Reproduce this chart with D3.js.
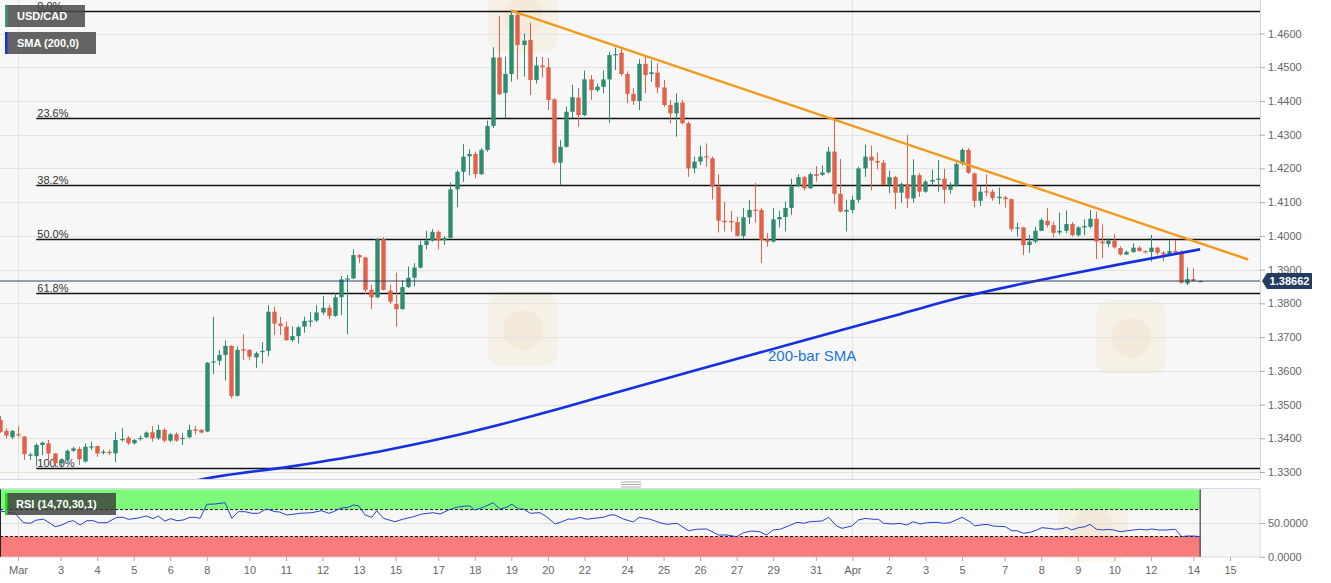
<!DOCTYPE html>
<html><head><meta charset="utf-8">
<script src="https://cdn.jsdelivr.net/npm/d3@7"></script>
<style>
body{margin:0;background:#fff;}
svg{display:block;font-family:"Liberation Sans",Arial,sans-serif;}
</style>
</head><body>
<svg id="chart" width="1331" height="583"></svg>
<script>
// ---------------- DATA ----------------
const firstBar = -3; // bar index of first candle (index 0 = Sun 1 Mar, 4H bars)
const openP = [
 1.3454,1.3422,1.3403,1.3412,1.3405,1.3350,1.3347,1.3380,1.3385,1.3355,
 1.3326,1.3336,1.3363,1.3368,1.3331,1.3373,1.3377,1.3358,1.3360,1.3355,
 1.3396,1.3402,1.3385,1.3398,1.3403,1.3418,1.3400,1.3425,1.3393,1.3412,
 1.3398,1.3403,1.3426,1.3425,1.3420,1.3625,1.3630,1.3647,1.3674,1.3526,
 1.3664,1.3662,1.3640,1.3656,1.3659,1.3775,1.3740,1.3731,1.3691,1.3703,
 1.3731,1.3746,1.3749,1.3773,1.3787,1.3763,1.3818,1.3871,1.3874,1.3943,
 1.3936,1.3840,1.3818,1.3990,1.3838,1.3798,1.3783,1.3848,1.3876,1.3906,
 1.3973,1.3986,1.4012,1.3987,1.3994,1.4138,1.4190,1.4236,1.4243,1.4183,
 1.4255,1.4326,1.4529,1.4424,1.4480,1.4655,1.4566,1.4581,1.4462,1.4505,
 1.4500,1.4405,1.4217,1.4264,1.4368,1.4410,1.4358,1.4464,1.4432,1.4442,
 1.4464,1.4537,1.4543,1.4480,1.4421,1.4400,1.4510,1.4480,1.4484,1.4440,
 1.4388,1.4363,1.4395,1.4334,1.4200,1.4220,1.4236,1.4230,1.4146,1.4045,
 1.4044,1.4041,1.4000,1.4055,1.4078,1.4077,1.3990,1.3983,1.4049,1.4056,
 1.4083,1.4147,1.4174,1.4141,1.4183,1.4181,1.4188,1.4250,1.4125,1.4072,
 1.4077,1.4107,1.4200,1.4235,1.4222,1.4217,1.4151,1.4174,1.4128,1.4154,
 1.4111,1.4180,1.4131,1.4161,1.4166,1.4170,1.4137,1.4149,1.4213,1.4255,
 1.4185,1.4104,1.4132,1.4131,1.4112,1.4114,1.4109,1.4022,1.4025,1.3973,
 1.3983,1.4015,1.4045,1.4032,1.4010,1.4015,1.4035,1.4002,1.4025,1.4027,
 1.4051,1.3983,1.3976,1.3986,1.3964,1.3945,1.3952,1.3965,1.3955,1.3952,
 1.3965,1.3950,1.3946,1.3955,1.3950,1.3859,1.3872,1.3866];
const highP = [
 1.3466,1.3430,1.3424,1.3436,1.3407,1.3357,1.3385,1.3390,1.3395,1.3356,
 1.3340,1.3367,1.3375,1.3375,1.3385,1.3390,1.3378,1.3366,1.3366,1.3418,
 1.3430,1.3406,1.3398,1.3408,1.3420,1.3436,1.3440,1.3430,1.3415,1.3417,
 1.3415,1.3440,1.3437,1.3427,1.3626,1.3760,1.3662,1.3690,1.3676,1.3672,
 1.3708,1.3665,1.3657,1.3685,1.3795,1.3790,1.3760,1.3746,1.3731,1.3733,
 1.3760,1.3775,1.3795,1.3822,1.3795,1.3830,1.3881,1.3884,1.3960,1.3946,
 1.3938,1.3855,1.3993,1.3996,1.3856,1.3891,1.3869,1.3909,1.3919,1.3986,
 1.4015,1.4020,1.4017,1.3999,1.4158,1.4195,1.4272,1.4257,1.4250,1.4260,
 1.4342,1.4559,1.4652,1.4531,1.4668,1.4660,1.4600,1.4632,1.4531,1.4530,
 1.4527,1.4408,1.4284,1.4383,1.4448,1.4438,1.4490,1.4477,1.4452,1.4490,
 1.4546,1.4558,1.4555,1.4488,1.4438,1.4524,1.4531,1.4521,1.4512,1.4462,
 1.4403,1.4423,1.4403,1.4339,1.4235,1.4268,1.4274,1.4235,1.4183,1.4101,
 1.4074,1.4057,1.4082,1.4107,1.4157,1.4082,1.4008,1.4082,1.4074,1.4102,
 1.4169,1.4183,1.4178,1.4188,1.4207,1.4209,1.4264,1.4350,1.4228,1.4107,
 1.4119,1.4205,1.4271,1.4268,1.4247,1.4225,1.4193,1.4178,1.4158,1.4300,
 1.4227,1.4186,1.4166,1.4197,1.4225,1.4199,1.4159,1.4218,1.4260,1.4260,
 1.4188,1.4149,1.4182,1.4138,1.4143,1.4119,1.4111,1.4039,1.4027,1.4003,
 1.4027,1.4052,1.4082,1.4042,1.4069,1.4075,1.4041,1.4029,1.4049,1.4077,
 1.4072,1.4034,1.3993,1.4006,1.3969,1.3957,1.3978,1.3969,1.3957,1.4003,
 1.3968,1.3955,1.3988,1.3988,1.3958,1.3907,1.3904,1.3868];
const lowP = [
 1.3416,1.3400,1.3397,1.3403,1.3336,1.3336,1.3318,1.3350,1.3331,1.3315,
 1.3313,1.3331,1.3359,1.3321,1.3328,1.3365,1.3345,1.3352,1.3350,1.3329,
 1.3390,1.3380,1.3382,1.3393,1.3400,1.3390,1.3395,1.3388,1.3388,1.3390,
 1.3380,1.3400,1.3411,1.3414,1.3418,1.3590,1.3617,1.3571,1.3518,1.3524,
 1.3632,1.3631,1.3608,1.3622,1.3643,1.3706,1.3706,1.3689,1.3686,1.3681,
 1.3713,1.3731,1.3745,1.3765,1.3753,1.3760,1.3765,1.3708,1.3872,1.3919,
 1.3828,1.3783,1.3815,1.3838,1.3798,1.3731,1.3781,1.3846,1.3850,1.3903,
 1.3960,1.3983,1.3960,1.3973,1.3992,1.4086,1.4160,1.4180,1.4171,1.4180,
 1.4250,1.4320,1.4417,1.4349,1.4457,1.4464,1.4472,1.4417,1.4452,1.4470,
 1.4373,1.4212,1.4150,1.4262,1.4349,1.4324,1.4355,1.4403,1.4427,1.4423,
 1.4335,1.4492,1.4474,1.4393,1.4388,1.4373,1.4423,1.4457,1.4423,1.4383,
 1.4334,1.4294,1.4330,1.4175,1.4185,1.4210,1.4205,1.4108,1.4010,1.4013,
 1.4013,1.3998,1.3991,1.4035,1.4039,1.3920,1.3968,1.3980,1.4025,1.4013,
 1.4062,1.4144,1.4135,1.4139,1.4161,1.4178,1.4185,1.4095,1.4070,1.4013,
 1.4067,1.4099,1.4175,1.4135,1.4197,1.4150,1.4126,1.4079,1.4099,1.4082,
 1.4099,1.4116,1.4128,1.4147,1.4131,1.4096,1.4125,1.4146,1.4209,1.4184,
 1.4084,1.4089,1.4117,1.4104,1.4094,1.4084,1.4013,1.3998,1.3943,1.3950,
 1.3978,1.4014,1.4025,1.3995,1.4003,1.4008,1.3998,1.3998,1.4002,1.4022,
 1.3931,1.3934,1.3966,1.3962,1.3942,1.3943,1.3950,1.3953,1.3948,1.3924,
 1.3943,1.3925,1.3944,1.3948,1.3858,1.3854,1.3864,1.3864];
const closeP = [
 1.3419,1.3408,1.3422,1.3410,1.3353,1.3352,1.3380,1.3387,1.3355,1.3326,
 1.3335,1.3363,1.3370,1.3338,1.3375,1.3376,1.3355,1.3360,1.3356,1.3395,
 1.3398,1.3385,1.3395,1.3401,1.3417,1.3400,1.3425,1.3393,1.3412,1.3393,
 1.3401,1.3425,1.3422,1.3417,1.3624,1.3628,1.3647,1.3674,1.3525,1.3662,
 1.3660,1.3642,1.3652,1.3659,1.3775,1.3740,1.3733,1.3691,1.3703,1.3729,
 1.3748,1.3749,1.3773,1.3787,1.3763,1.3818,1.3871,1.3874,1.3943,1.3936,
 1.3840,1.3818,1.3990,1.3840,1.3805,1.3783,1.3848,1.3876,1.3906,1.3973,
 1.3986,1.4012,1.3986,1.3994,1.4138,1.4190,1.4235,1.4243,1.4183,1.4255,
 1.4326,1.4529,1.4420,1.4480,1.4655,1.4566,1.4579,1.4462,1.4505,1.4500,
 1.4403,1.4217,1.4264,1.4368,1.4411,1.4358,1.4464,1.4432,1.4442,1.4464,
 1.4536,1.4539,1.4480,1.4421,1.4400,1.4510,1.4477,1.4485,1.4440,1.4388,
 1.4363,1.4395,1.4334,1.4200,1.4220,1.4235,1.4233,1.4146,1.4045,1.4041,
 1.4040,1.4000,1.4055,1.4077,1.4074,1.3988,1.3983,1.4049,1.4056,1.4083,
 1.4147,1.4174,1.4141,1.4183,1.4178,1.4188,1.4250,1.4125,1.4072,1.4077,
 1.4107,1.4200,1.4235,1.4223,1.4217,1.4151,1.4174,1.4128,1.4154,1.4111,
 1.4180,1.4131,1.4161,1.4166,1.4170,1.4137,1.4149,1.4213,1.4255,1.4187,
 1.4104,1.4131,1.4129,1.4112,1.4116,1.4109,1.4020,1.4025,1.3972,1.3983,
 1.4015,1.4047,1.4032,1.4009,1.4015,1.4035,1.4002,1.4025,1.4029,1.4051,
 1.3983,1.3978,1.3986,1.3966,1.3945,1.3952,1.3965,1.3955,1.3952,1.3965,
 1.3950,1.3945,1.3955,1.3950,1.3861,1.3872,1.38662,1.38662];

const smaBars   = [28, 30.1, 44.7, 59.4, 70.3, 79.2, 89.0, 95.6, 112, 128.4, 144.8, 154.7, 171.1, 182.1, 194.1];
const smaValues = [1.3270, 1.3278, 1.3316, 1.3361, 1.3402, 1.3441, 1.3488, 1.3522, 1.3605, 1.3687, 1.3768, 1.3817, 1.3881, 1.3920, 1.3960];

const rsiBars = [-3,-2.1,-0.5,0.9,2.0,3.1,4.2,5.3,6.1,7.2,8.3,9.1,10.2,11.3,12.4,13.2,14.6,16.2,17.3,18.1,19.5,21.1,22.2,23.0,24.1,25.1,26.1,27.1,28.2,29.1,29.9,
 31.0,32.3,34.0,35.1,36.2,37.3,38.4,39.5,40.8,42.2,43.0,44.1,45.2,46.3,48.2,49.9,51.0,51.8,52.9,54.2,55.1,55.9,57.0,58.1,58.9,60.0,61.9,63.3,64.9,66.3,68.2,69.3,70.7,
 72.0,73.4,74.2,75.0,76.4,78.0,79.1,80.2,81.1,82.2,83.0,84.1,85.7,86.8,88.2,89.3,90.4,91.2,92.3,93.4,94.5,96.1,97.2,98.0,99.4,101.0,102.0,103.8,105.4,106.5,108.2,
 110.1,111.4,113.1,115.0,116.4,118.0,119.1,120.5,121.8,122.9,124.0,125.1,126.5,127.9,129.0,130.0,132.0,133.1,134.4,135.3,136.9,138.0,139.1,140.4,141.3,142.1,
 143.7,144.8,145.9,147.0,148.1,149.2,150.9,152.0,153.0,155.0,156.3,157.1,158.0,159.1,160.1,162.1,163.2,164.0,165.1,166.2,167.0,168.1,169.2,170.3,171.4,172.2,173.0,
 174.1,175.2,176.0,177.1,178.2,179.0,179.9,181.0,182.1,183.1,184.2,185.3,186.1,187.3,188.6,190.0,191.1,191.9,193.0,194.1];
const rsiValues = [67,67,64.5,50.5,49.6,54.5,55.6,49.6,44.6,47.1,52,53.5,47.1,53.5,53.5,50.5,50.5,58.5,58.5,55.6,57,60.5,56.5,60.5,53,56.5,53.5,54.5,58.5,58.5,57,
 77.9,78.3,80.2,57,66.9,66.9,64.5,64.5,70.9,66.9,66.4,62,63,64.5,65.4,68.4,64.5,66.9,71.9,73.4,76.8,75.8,62,58.5,68.4,57,52,56,59.4,63.4,65.4,63.4,69.4,
 73.4,75.3,75.3,69.4,73.4,80.2,70.9,73.4,77.9,70.9,70.9,64.5,65.4,59.4,48.6,52,56,55.6,58.5,55.6,57,58.5,62,62,56,51.6,58.5,55.6,50.5,48.1,49.6,
 38.6,40.7,41.2,32.2,32.2,29.7,35.7,38.2,37.1,32.2,39.7,40.7,45.6,51.1,49.6,52,53,58.5,45.6,42.2,45.6,54.5,57,55.6,55.6,49.6,
 48.6,49.6,47.1,52,48.6,50.5,51.1,49.6,50.5,58.5,52,45.6,47.1,48.1,45.6,44.6,38.6,38.6,34.8,36.3,38.6,43.1,42.2,40.7,41.6,43.7,39.7,
 43.1,44.6,48.1,40.7,39.7,40.7,39.7,37.1,38.6,39.7,40.7,39.7,41.2,39.7,39.7,40.7,29.7,30.8,30.8,29.7];

const fibLevels = [0, 23.6, 38.2, 50, 61.8, 100];
const fibHigh = 1.4668, fibLow = 1.3313, fibStartBar = 3;
const trendBars = [81, 202];
const trendValues = [1.4668, 1.3930];
const priceTicks = [1.33,1.34,1.35,1.36,1.37,1.38,1.39,1.40,1.41,1.42,1.43,1.44,1.45,1.46];
const rsiTicks = [0, 50];
const rsiLevels = [30, 70];
const xTickBars   = [0,7,13,19,25,31,38,44,50,56,62,69,75,81,87,93,100,106,112,118,124,131,137,143,149,155,162,168,174,180,186,193,199];
const xTickLabels = ["Mar","3","4","5","6","8","10","11","12","13","15","17","18","19","20","22","24","25","26","27","29","31","Apr","2","3","5","7","8","9","10","12","14","15"];
const monthBars = [0, 137];
const lastPrice = 1.38662;

// ---------------- LAYOUT ----------------
const svg = d3.select("#chart");
const plotR = 1260, mainB = 479, rsiT = 488, rsiB = 557;
const x = d3.scaleLinear().domain([0, 199]).range([18, 1230]);
const y = d3.scaleLinear().domain([1.33, 1.46]).range([472, 33.5]);
const yR = d3.scaleLinear().domain([0, 100]).range([556.7, 489.4]);
const GREEN = "#2f8c70", RED = "#e2614b";

const defs = svg.append("defs");
defs.append("clipPath").attr("id","clipMain").append("rect").attr("x",0).attr("y",0).attr("width",plotR).attr("height",mainB);
defs.append("clipPath").attr("id","clipRsi").append("rect").attr("x",0).attr("y",rsiT).attr("width",plotR).attr("height",rsiB-rsiT);

// backgrounds
svg.append("rect").attr("x",0).attr("y",0).attr("width",plotR).attr("height",mainB).attr("fill","#f7f7f7");
svg.append("rect").attr("x",0.5).attr("y",rsiT+0.5).attr("width",plotR-0.5).attr("height",rsiB-rsiT-0.5)
  .attr("fill","#f7f7f7").attr("stroke","#d6d9e8");
svg.append("line").attr("x1",plotR+0.5).attr("x2",plotR+0.5).attr("y1",0).attr("y2",mainB).attr("stroke","#d0d4e4");
svg.append("line").attr("x1",0).attr("x2",plotR).attr("y1",mainB+0.5).attr("y2",mainB+0.5).attr("stroke","#d0d4e4");

// faint watermark logos (shapes only)
const wm = svg.append("g").attr("pointer-events","none");
const wmLogos = [[488,-22],[488,292],[1096,300],[1058,488]];
wmLogos.forEach(p=>{
  wm.append("rect").attr("x",p[0]).attr("y",p[1]).attr("width",70).attr("height",74).attr("rx",14)
    .attr("fill","#f2c46a").attr("opacity",0.12);
  wm.append("circle").attr("cx",p[0]+35).attr("cy",p[1]+38).attr("r",20).attr("fill","#c98a3a").attr("opacity",0.06);
});

// grid
const gGrid = svg.append("g");
gGrid.selectAll("line.h").data(priceTicks).enter().append("line")
  .attr("x1",0).attr("x2",plotR).attr("y1",d=>Math.round(y(d))+0.5).attr("y2",d=>Math.round(y(d))+0.5)
  .attr("stroke","#e3e3e3");
gGrid.selectAll("line.v").data(monthBars).enter().append("line")
  .attr("x1",d=>Math.round(x(d))+0.5).attr("x2",d=>Math.round(x(d))+0.5).attr("y1",0).attr("y2",mainB)
  .attr("stroke","#e3e3e3");

// fibonacci
const gFib = svg.append("g");
fibLevels.forEach(l=>{
  const p = fibHigh - (fibHigh - fibLow) * l / 100;
  const yy = Math.round(y(p)) + 0.5;
  gFib.append("line").attr("x1",x(fibStartBar)).attr("x2",plotR).attr("y1",yy).attr("y2",yy)
    .attr("stroke","#111").attr("stroke-width",1.3);
  gFib.append("text").attr("x",x(fibStartBar)+1).attr("y",yy-2).text(d3.format(".1f")(l)+"%")
    .attr("font-size",11).attr("fill","#333");
});

// candles
const gC = svg.append("g").attr("clip-path","url(#clipMain)");
const bars = openP.map((o,k)=>({i:k+firstBar,o:o,h:highP[k],l:lowP[k],c:closeP[k]}));
gC.selectAll("line.w").data(bars).enter().append("line")
  .attr("x1",d=>Math.round(x(d.i))+0.5).attr("x2",d=>Math.round(x(d.i))+0.5)
  .attr("y1",d=>y(d.h)).attr("y2",d=>y(d.l))
  .attr("stroke",d=>d.c>=d.o?GREEN:RED).attr("stroke-width",1);
gC.selectAll("rect.b").data(bars).enter().append("rect")
  .attr("x",d=>Math.round(x(d.i))-1.7).attr("width",4.4)
  .attr("y",d=>y(Math.max(d.o,d.c))).attr("height",d=>Math.max(1.2,Math.abs(y(d.o)-y(d.c))))
  .attr("fill",d=>d.c>=d.o?GREEN:RED);

// SMA
const smaPts = smaBars.map((b,k)=>[b,smaValues[k]]);
gC.append("path").datum(smaPts)
  .attr("d",d3.line().x(d=>x(d[0])).y(d=>y(d[1])).curve(d3.curveMonotoneX))
  .attr("fill","none").attr("stroke","#1530e0").attr("stroke-width",2.6);

// trendline
gC.append("path").datum(trendBars.map((b,k)=>[b,trendValues[k]]))
  .attr("d",d3.line().x(d=>x(d[0])).y(d=>y(d[1])))
  .attr("fill","none").attr("stroke","#f39a1e").attr("stroke-width",2.4);

// current price line
const yL = y(lastPrice);
svg.append("line").attr("x1",0).attr("x2",plotR).attr("y1",yL).attr("y2",yL).attr("stroke","#2c4466").attr("stroke-width",1);

svg.append("text").attr("x",768).attr("y",361).text("200-bar SMA").attr("font-size",15).attr("fill","#1f74d8");

// price axis
const axY = svg.append("g").attr("transform",`translate(${plotR},0)`)
  .call(d3.axisRight(y).tickValues(priceTicks).tickFormat(d3.format(".4f")).tickSize(5).tickPadding(3));
axY.select(".domain").remove();
axY.selectAll("line").attr("stroke","#aaa");
axY.selectAll("text").attr("fill","#666").attr("font-size",11).attr("font-family","Liberation Sans, Arial, sans-serif");

// last price label
const lbl = svg.append("g");
lbl.append("path").attr("d",`M${plotR+2},${yL} L${plotR+7},${yL-8} L${plotR+52},${yL-8} L${plotR+52},${yL+8} L${plotR+7},${yL+8} Z`)
  .attr("fill","#243d5e");
lbl.append("text").attr("x",plotR+29.5).attr("y",yL+4).attr("text-anchor","middle").text(d3.format(".5f")(lastPrice))
  .attr("fill","#fff").attr("font-size",11).attr("font-weight","bold");

// legends
function legend(yTop, w, accent, label){
  const g = svg.append("g");
  g.append("rect").attr("x",5).attr("y",yTop).attr("width",w).attr("height",22).attr("fill","#4a4a4a").attr("opacity",0.85);
  g.append("rect").attr("x",5).attr("y",yTop).attr("width",2.5).attr("height",22).attr("fill",accent);
  g.append("text").attr("x",17).attr("y",yTop+15).text(label).attr("fill","#fff").attr("font-size",11).attr("font-weight","bold");
}
legend(5, 80, "#2f9a78", "USD/CAD");
legend(32, 91, "#1530e0", "SMA (200,0)");

// splitter
[482,484.5,487].forEach(v=>svg.append("line").attr("x1",621).attr("x2",641).attr("y1",v).attr("y2",v).attr("stroke","#999").attr("stroke-width",0.8));

// RSI panel
const gR = svg.append("g").attr("clip-path","url(#clipRsi)");
const rsiEnd = x(rsiBars[rsiBars.length-1]);
gR.append("line").attr("x1",0).attr("x2",plotR).attr("y1",Math.round(yR(50))+0.5).attr("y2",Math.round(yR(50))+0.5).attr("stroke","#e0e0e0");
monthBars.forEach(b=>gR.append("line").attr("x1",Math.round(x(b))+0.5).attr("x2",Math.round(x(b))+0.5).attr("y1",rsiT).attr("y2",rsiB).attr("stroke","#e3e3e3"));
gR.append("rect").attr("x",0).attr("y",yR(100)).attr("width",rsiEnd).attr("height",yR(rsiLevels[1])-yR(100)).attr("fill","#7ef97c");
gR.append("rect").attr("x",0).attr("y",yR(rsiLevels[0])).attr("width",rsiEnd).attr("height",yR(0)-yR(rsiLevels[0])).attr("fill","#f87c7c");
rsiLevels.forEach(l=>gR.append("line").attr("x1",0).attr("x2",rsiEnd).attr("y1",yR(l)).attr("y2",yR(l))
  .attr("stroke","#111").attr("stroke-dasharray","3,2").attr("stroke-width",1));
[0.5, rsiEnd].forEach(xx=>gR.append("line").attr("x1",xx).attr("x2",xx).attr("y1",yR(100)).attr("y2",yR(0)).attr("stroke","#222").attr("stroke-width",1));
gR.append("path").datum(rsiBars.map((b,k)=>[b,rsiValues[k]]))
  .attr("d",d3.line().x(d=>x(d[0])).y(d=>yR(d[1])))
  .attr("fill","none").attr("stroke","#2442d0").attr("stroke-width",1);

const axR = svg.append("g").attr("transform",`translate(${plotR},0)`)
  .call(d3.axisRight(yR).tickValues(rsiTicks).tickFormat(d3.format(".4f")).tickSize(5).tickPadding(3));
axR.select(".domain").remove();
axR.selectAll("line").attr("stroke","#aaa");
axR.selectAll("text").attr("fill","#666").attr("font-size",11).attr("font-family","Liberation Sans, Arial, sans-serif");

// RSI legend
const rl = svg.append("g");
rl.append("rect").attr("x",5).attr("y",493).attr("width",111).attr("height",22).attr("fill","#3a3a3a").attr("opacity",0.8);
rl.append("rect").attr("x",5).attr("y",493).attr("width",2.5).attr("height",22).attr("fill","#22dd22");
rl.append("text").attr("x",16).attr("y",508).text("RSI (14,70,30,1)").attr("fill","#fff").attr("font-size",11).attr("font-weight","bold");

// x axis
const axX = svg.append("g").attr("transform",`translate(0,${rsiB})`)
  .call(d3.axisBottom(x).tickValues(xTickBars).tickFormat((d,k)=>xTickLabels[k]).tickSize(4).tickPadding(5));
axX.select(".domain").remove();
axX.selectAll("line").attr("stroke","#aaa");
axX.selectAll("text").attr("fill","#666").attr("font-size",11).attr("font-family","Liberation Sans, Arial, sans-serif");
</script>
</body></html>
